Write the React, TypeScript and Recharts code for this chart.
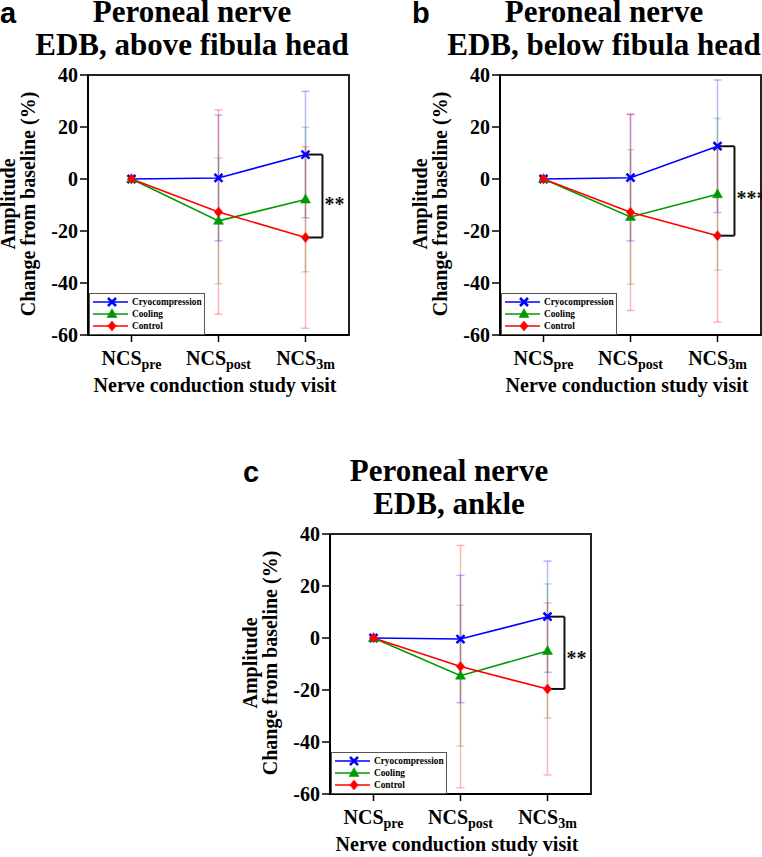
import React from 'react';
import { LineChart, Line, XAxis, YAxis, ErrorBar, ReferenceArea, ReferenceLine, Legend } from 'recharts';

// ---------- data ----------
const visits = ['pre', 'post', '3m'];
const yTicks = [-60, -40, -20, 0, 20, 40];
const seriesNames = ['Cryocompression', 'Cooling', 'Control'];

// Panel a: EDB, above fibula head
const aCryo = [0, 0.4, 9.4];
const aCryoSd = [null, 24.2, 24.3];
const aCool = [0, -16.1, -7.9];
const aCoolSd = [null, 24.2, 27.8];
const aCtrl = [0, -12.7, -22.5];
const aCtrlSd = [null, 39.3, 34.9];

// Panel b: EDB, below fibula head
const bCryo = [0, 0.5, 12.6];
const bCryoSd = [null, 24.3, 25.5];
const bCool = [0, -14.6, -5.9];
const bCoolSd = [null, 25.9, 29.2];
const bCtrl = [0, -12.8, -21.8];
const bCtrlSd = [null, 37.8, 33.2];

// Panel c: EDB, ankle
const cCryo = [0, -0.4, 8.2];
const cCryoSd = [null, 24.5, 21.4];
const cCool = [0, -14.5, -5.0];
const cCoolSd = [null, 27.1, 25.8];
const cCtrl = [0, -11.0, -19.6];
const cCtrlSd = [null, 46.6, 33.1];

// ---------- styles ----------
const SERIF = '"Liberation Serif", "Times New Roman", Times, serif';
const SANS = '"Liberation Sans", Arial, sans-serif';
const serifStyle = { fontFamily: SERIF, fontWeight: 700 } as any;
const BLUE = '#0000ff';
const GREEN = '#009900';
const RED = '#ff0000';
const COLORS = [BLUE, GREEN, RED];

const buildData = (cryo: number[], cryoSd: any[], cool: number[], coolSd: any[], ctrl: number[], ctrlSd: any[]) =>
  visits.map((_, i) => ({
    x: i,
    cryo: cryo[i],
    cryoSd: cryoSd[i],
    cool: cool[i],
    coolSd: coolSd[i],
    ctrl: ctrl[i],
    ctrlSd: ctrlSd[i],
  }));

const CrossShape = ({ cx, cy, color, s = 4 }: any) => (
  <path
    d={`M${cx - s},${cy - s}L${cx + s},${cy + s}M${cx - s},${cy + s}L${cx + s},${cy - s}`}
    stroke={color}
    strokeWidth={2.5}
    fill="none"
  />
);
const TriShape = ({ cx, cy, color }: any) => (
  <path d={`M${cx},${cy - 5.5}L${cx + 5},${cy + 3.5}L${cx - 5},${cy + 3.5}Z`} fill={color} stroke={color} strokeWidth={0.5} />
);
const DiamondShape = ({ cx, cy, color }: any) => (
  <path d={`M${cx},${cy - 5}L${cx + 4.2},${cy}L${cx},${cy + 5}L${cx - 4.2},${cy}Z`} fill={color} stroke={color} strokeWidth={0.5} />
);
const SHAPES = [CrossShape, TriShape, DiamondShape];

const makeDot = (idx: number) => (props: any) => {
  const Shape = SHAPES[idx];
  if (props.cx == null || props.cy == null) return <g key={props.key} />;
  return (
    <g key={props.key}>
      <Shape cx={props.cx} cy={props.cy} color={COLORS[idx]} />
    </g>
  );
};

const VisitTick = (props: any) => {
  const { x, y, payload } = props;
  return (
    <text x={x} y={y + 21} textAnchor="middle" style={{ ...serifStyle, fontSize: 20 }} fill="#000">
      NCS
      <tspan style={{ fontSize: 14 }} dy={4}>
        {visits[payload.value]}
      </tspan>
    </text>
  );
};

const YTick = (props: any) => {
  const { x, y, payload } = props;
  return (
    <text x={x} y={y} dy={7} textAnchor="end" style={{ ...serifStyle, fontSize: 20 }} fill="#000">
      {String(payload.value)}
    </text>
  );
};

const LegendBox = (props: any) => {
  const payload = [...(props.payload || [])].sort(
    (u: any, v: any) => seriesNames.indexOf(u.value) - seriesNames.indexOf(v.value)
  );
  return (
    <svg width={116} height={42} style={{ display: 'block' }}>
      <rect x={0.5} y={0.5} width={115} height={41} fill="#fff" stroke="#555" strokeWidth={1} />
      {payload.map((entry: any, i: number) => {
        const idx = seriesNames.indexOf(entry.value);
        const Shape = SHAPES[idx < 0 ? i : idx];
        const cy = 9 + i * 12;
        return (
          <g key={i}>
            <line x1={4} x2={39} y1={cy} y2={cy} stroke={entry.color} strokeWidth={1.5} />
            <Shape cx={23} cy={cy} color={entry.color} />
            <text x={43} y={cy + 3.3} style={{ ...serifStyle, fontSize: 9.3 }} fill="#000">
              {entry.value}
            </text>
          </g>
        );
      })}
    </svg>
  );
};

const BRACKET = 0.195;

type PanelProps = {
  letter: string;
  title2: string;
  left: number;
  top: number;
  width: number;
  height: number;
  titleCx: number;
  titleY: number;
  letterX: number;
  stars: string;
  starDy: number;
  cryo: number[];
  cryoSd: any[];
  cool: number[];
  coolSd: any[];
  ctrl: number[];
  ctrlSd: any[];
};

const Panel = (p: PanelProps) => {
  const data = buildData(p.cryo, p.cryoSd, p.cool, p.coolSd, p.ctrl, p.ctrlSd);
  const plotBottom = 335;
  const marginBottom = p.height - plotBottom - 30;
  const marginRight = p.width - 88 - 261;
  const last = visits.length - 1;
  const top = p.cryo[last];
  const bottom = p.ctrl[last];
  return (
    <div style={{ position: 'absolute', left: p.left, top: p.top }}>
      <LineChart
        width={p.width}
        height={p.height}
        data={data}
        margin={{ top: 75, right: marginRight, bottom: marginBottom, left: 0 }}
      >
        <text x={p.letterX} y={p.titleY + 1} style={{ fontFamily: SANS, fontWeight: 700, fontSize: 29 }} fill="#000">
          {p.letter}
        </text>
        <text x={p.titleCx} y={p.titleY} textAnchor="middle" style={{ ...serifStyle, fontSize: 31 }} fill="#000">
          Peroneal nerve
        </text>
        <text x={p.titleCx} y={p.titleY + 33} textAnchor="middle" style={{ ...serifStyle, fontSize: 31 }} fill="#000">
          {p.title2}
        </text>
        <text transform="translate(15,204) rotate(-90)" textAnchor="middle" style={{ ...serifStyle, fontSize: 20 }} fill="#000">
          Amplitude
        </text>
        <text transform="translate(35,204) rotate(-90)" textAnchor="middle" style={{ ...serifStyle, fontSize: 20 }} fill="#000">
          Change from baseline (%)
        </text>
        <text x={215} y={392} textAnchor="middle" style={{ ...serifStyle, fontSize: 20 }} fill="#000">
          Nerve conduction study visit
        </text>
        <XAxis
          dataKey="x"
          type="number"
          domain={[-0.5, 2.5]}
          ticks={[0, 1, 2]}
          height={30}
          tickSize={7}
          tick={<VisitTick />}
          axisLine={{ stroke: '#000', strokeWidth: 2 }}
          tickLine={{ stroke: '#000', strokeWidth: 1.5 }}
          allowDataOverflow
        />
        <YAxis
          type="number"
          domain={[-60, 40]}
          ticks={yTicks}
          width={88}
          tickSize={8}
          tickMargin={2}
          interval={0}
          tick={<YTick />}
          axisLine={{ stroke: '#000', strokeWidth: 2 }}
          tickLine={{ stroke: '#000', strokeWidth: 1.5 }}
          allowDataOverflow
        />
        <ReferenceArea x1={-0.5} x2={2.5} y1={-60} y2={40} fill="none" stroke="#222" strokeWidth={2} ifOverflow="visible" />
        <Line dataKey="cryo" name={seriesNames[0]} stroke={BLUE} strokeWidth={1.6} dot={makeDot(0)} activeDot={false} isAnimationActive={false}>
          <ErrorBar dataKey="cryoSd" direction="y" width={4} stroke={BLUE} strokeOpacity={0.28} strokeWidth={1.5} isAnimationActive={false} />
        </Line>
        <Line dataKey="cool" name={seriesNames[1]} stroke={GREEN} strokeWidth={1.6} dot={makeDot(1)} activeDot={false} isAnimationActive={false}>
          <ErrorBar dataKey="coolSd" direction="y" width={4} stroke={GREEN} strokeOpacity={0.25} strokeWidth={1.5} isAnimationActive={false} />
        </Line>
        <Line dataKey="ctrl" name={seriesNames[2]} stroke={RED} strokeWidth={1.6} dot={makeDot(2)} activeDot={false} isAnimationActive={false}>
          <ErrorBar dataKey="ctrlSd" direction="y" width={4} stroke={RED} strokeOpacity={0.28} strokeWidth={1.5} isAnimationActive={false} />
        </Line>
        <ReferenceLine segment={[{ x: last, y: top }, { x: last + BRACKET, y: top }]} stroke="#111" strokeWidth={2} ifOverflow="visible" />
        <ReferenceLine segment={[{ x: last, y: bottom }, { x: last + BRACKET, y: bottom }]} stroke="#111" strokeWidth={2} ifOverflow="visible" />
        <ReferenceLine
          segment={[{ x: last + BRACKET, y: top }, { x: last + BRACKET, y: bottom }]}
          stroke="#111"
          strokeWidth={2}
          ifOverflow="visible"
          label={(lp: any) => {
            const vb = lp.viewBox || {};
            return (
              <text x={vb.x + 2} y={vb.y + vb.height / 2 + p.starDy} style={{ ...serifStyle, fontSize: 20 }} fill="#111">
                {p.stars}
              </text>
            );
          }}
        />
        <Legend
          layout="horizontal"
          verticalAlign="middle"
          align="center"
          wrapperStyle={{ left: 89, top: 293, width: 116, height: 42 }}
          content={(lp: any) => <LegendBox payload={lp.payload} />}
        />
      </LineChart>
    </div>
  );
};

export default function App() {
  return (
    <div style={{ position: 'absolute', left: 0, top: 0, width: 762, height: 857, background: '#fff', overflow: 'hidden' }}>
      <Panel letter="a" title2="EDB, above fibula head" left={0} top={0} width={380} height={400} titleCx={192} titleY={22} letterX={0} stars="**" starDy={15}
        cryo={aCryo} cryoSd={aCryoSd} cool={aCool} coolSd={aCoolSd} ctrl={aCtrl} ctrlSd={aCtrlSd} />
      <Panel letter="b" title2="EDB, below fibula head" left={412} top={0} width={350} height={400} titleCx={192} titleY={22} letterX={0} stars="***" starDy={14}
        cryo={bCryo} cryoSd={bCryoSd} cool={bCool} coolSd={bCoolSd} ctrl={bCtrl} ctrlSd={bCtrlSd} />
      <Panel letter="c" title2="EDB, ankle" left={242} top={459} width={380} height={398} titleCx={207} titleY={22} letterX={1} stars="**" starDy={12}
        cryo={cCryo} cryoSd={cCryoSd} cool={cCool} coolSd={cCoolSd} ctrl={cCtrl} ctrlSd={cCtrlSd} />
    </div>
  );
}
